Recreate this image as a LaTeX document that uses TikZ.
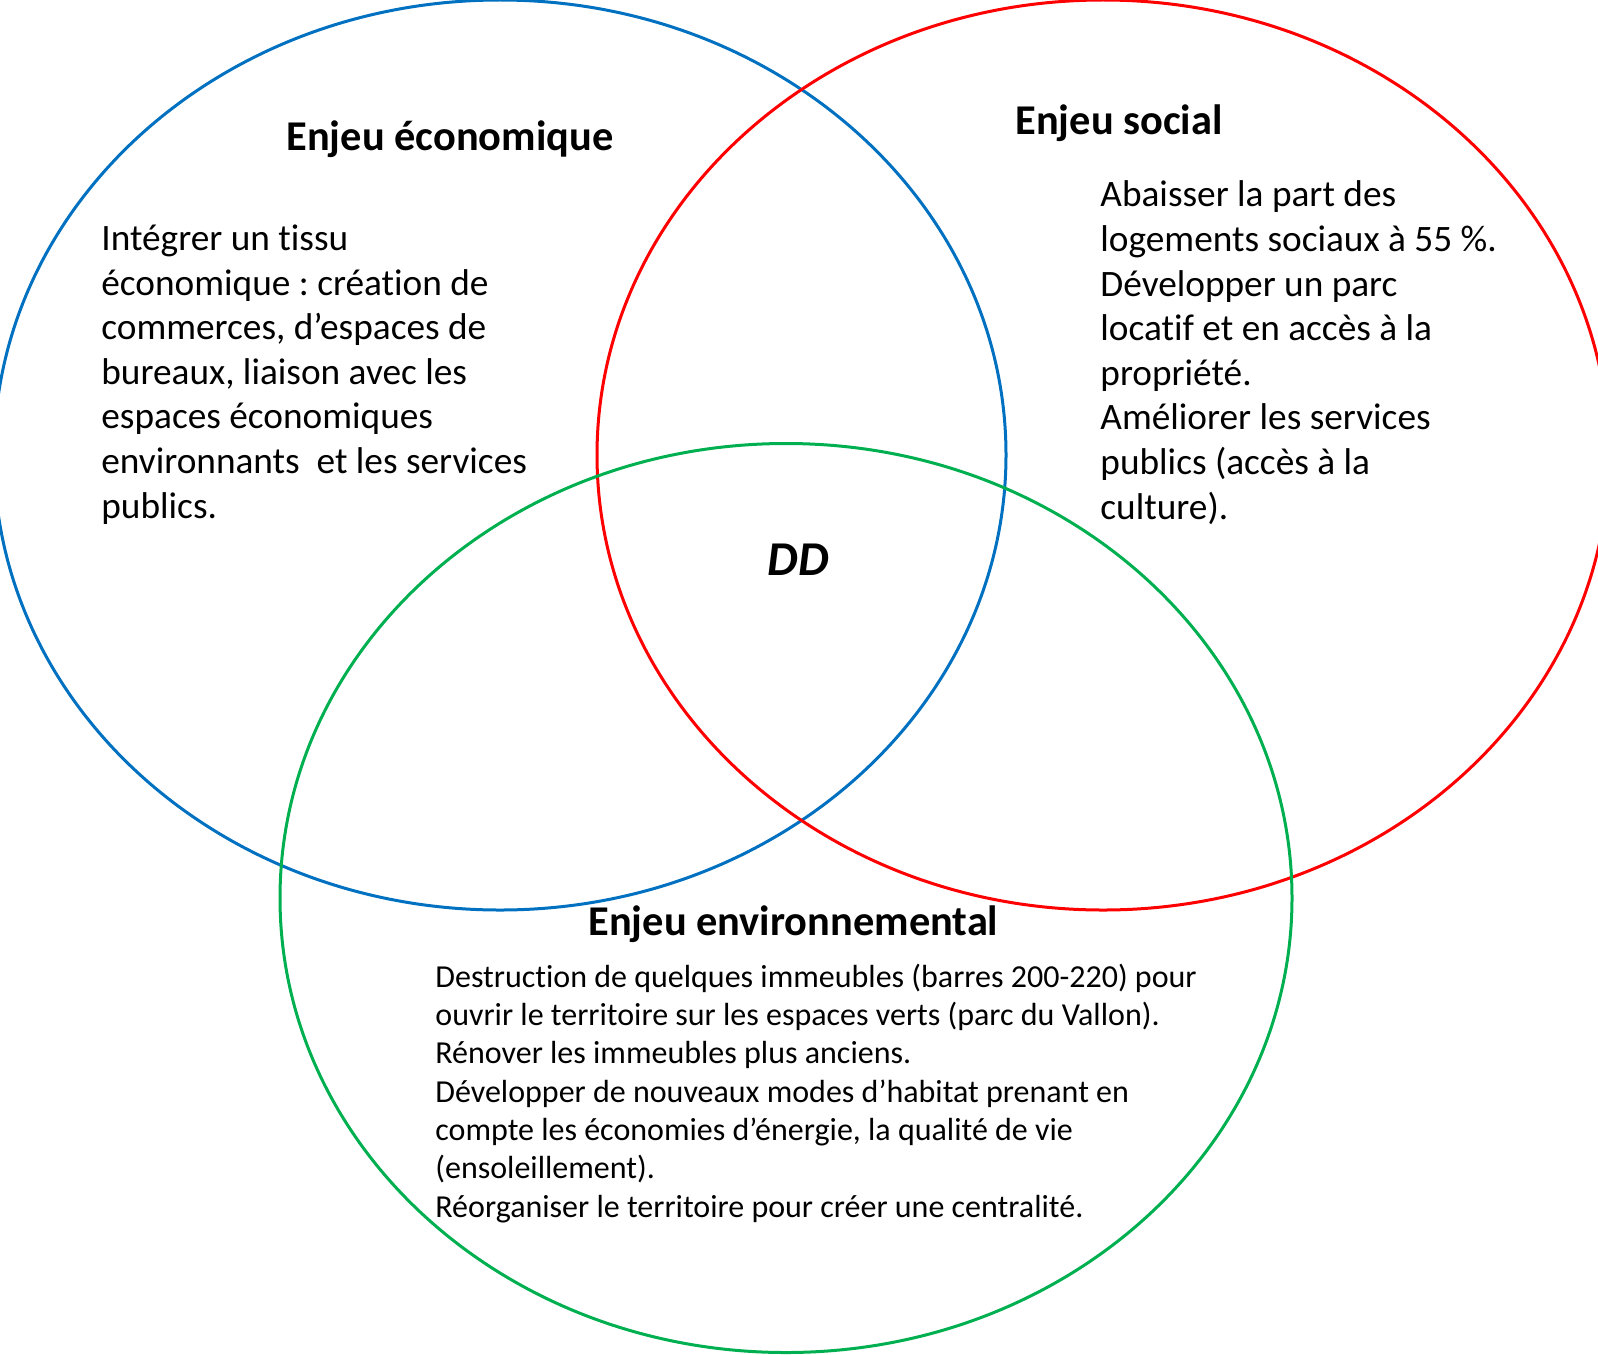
\documentclass[tikz,border=0pt]{standalone}
\usepackage{fontspec}
\setmainfont{Carlito}[Ligatures=NoCommon]
\frenchspacing
\definecolor{cblue}{HTML}{0070C0}
\definecolor{cred}{HTML}{FF0000}
\definecolor{cgreen}{HTML}{00B050}
\begin{document}
\begin{tikzpicture}[x=0.5pt,y=-0.5pt,
  ring/.style={line width=1.5pt},
  title/.style={anchor=base west,inner sep=0pt,font=\fontsize{21.2}{25}\selectfont\bfseries},
  body/.style={anchor=base west,inner sep=0pt,align=left,font=\fontsize{18.65}{22.3}\selectfont},
  envbody/.style={anchor=base west,inner sep=0pt,align=left,font=\fontsize{16}{19.15}\selectfont}]
\useasboundingbox (0,0) rectangle (1598,1354);
\clip (0,0) rectangle (1598,1354);
\draw[ring,cblue] (500,455) ellipse [x radius=253pt, y radius=227.5pt];
\draw[ring,cred] (1103,455) ellipse [x radius=253pt, y radius=227.5pt];
\draw[ring,cgreen] (786,898) ellipse [x radius=253pt, y radius=227.25pt];
\node[title] (teco) at (286,150) {Enjeu économique};
\node[title] (tsoc) at (1015,134) {Enjeu social};
\node[title] (tenv) at (588,935) {Enjeu environnemental};
\node[anchor=base west,inner sep=0pt,font=\fontsize{24.3}{29}\selectfont\bfseries\itshape] (dd) at (767,575) {DD};
\node[body] (beco) at (101,518) {Intégrer un tissu\\économique : création de\\commerces, d’espaces de\\bureaux, liaison avec les\\espaces économiques\\environnants~ et les services\\publics.};
\node[body] (bsoc) at (1100,519) {Abaisser la part des\\logements sociaux à 55 \%.\\Développer un parc\\locatif et en accès à la\\propriété.\\Améliorer les services\\publics (accès à la\\culture).};
\node[envbody] (benv) at (435,1217) {Destruction de quelques immeubles (barres 200-220) pour\\ouvrir le territoire sur les espaces verts (parc du Vallon).\\Rénover les immeubles plus anciens.\\Développer de nouveaux modes d’habitat prenant en\\compte les économies d’énergie, la qualité de vie\\(ensoleillement).\\Réorganiser le territoire pour créer une centralité.};
\end{tikzpicture}
\end{document}
